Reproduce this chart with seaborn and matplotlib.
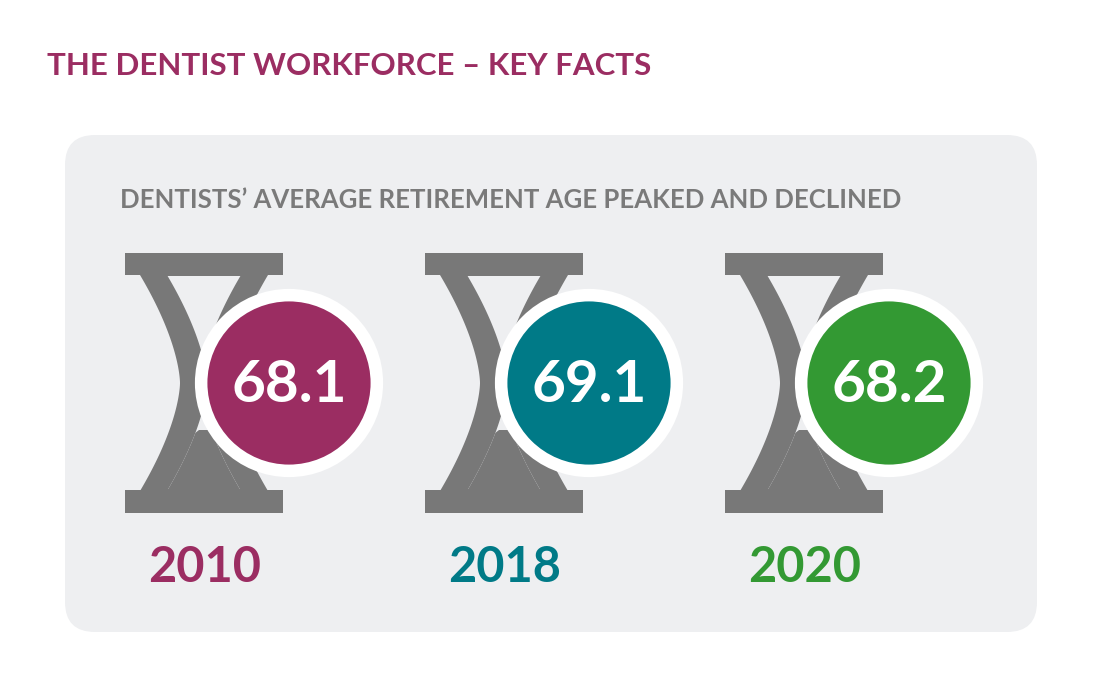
import numpy as np
import pandas as pd
import matplotlib
matplotlib.use("Agg")
import matplotlib.pyplot as plt
import seaborn as sns
from matplotlib.patches import FancyBboxPatch, Polygon, Rectangle

years = ["2010", "2018", "2020"]
ages = [68.1, 69.1, 68.2]
colors = ["#9B2D62", "#007A87", "#339933"]
title = "THE DENTIST WORKFORCE – KEY FACTS"
subtitle = "DENTISTS’ AVERAGE RETIREMENT AGE PEAKED AND DECLINED"

plt.rcParams["font.family"] = "Lato"
fig = plt.figure(figsize=(11, 6.94), dpi=100)
ax = fig.add_axes([0, 0, 1, 1])
ax.set_xlim(0, 1100); ax.set_ylim(694, 0); ax.axis("off")

panel_c = "#EEEFF1"; gray = "#787878"
ax.add_patch(FancyBboxPatch((65, 135), 972, 497, boxstyle="round,pad=0,rounding_size=30",
                            fc=panel_c, ec="none", zorder=0))
ax.text(47, 66, title, color="#9B2D62", fontsize=22.5, fontweight="bold", va="center")
ax.text(120, 200, subtitle, color="#7A7A7A", fontsize=18.5, fontweight="bold", va="center")

ys = np.linspace(275, 490, 120)
t = (ys - 383) / 108
w_out = 24 + 40 * np.abs(np.clip(t, -1, 1)) ** 1.6
for i in range(3):
    cx = 204 + 300 * i
    ax.add_patch(Rectangle((cx - 79, 253), 158, 22, fc=gray, ec="none", zorder=1))
    ax.add_patch(Rectangle((cx - 79, 490), 158, 23, fc=gray, ec="none", zorder=1))
    pts = np.concatenate([np.c_[cx - w_out, ys], np.c_[cx + w_out, ys][::-1]])
    ax.add_patch(Polygon(pts, fc=gray, ec="none", zorder=1))
    yi = np.linspace(276, 489, 120)
    ti = (yi - 383) / 108
    w_in = np.maximum(24 + 40 * np.abs(np.clip(ti, -1, 1)) ** 1.6 - 27, 2)
    pts_in = np.concatenate([np.c_[cx - w_in, yi], np.c_[cx + w_in, yi][::-1]])
    ax.add_patch(Polygon(pts_in, fc=panel_c, ec="none", zorder=2))
    ys2 = np.linspace(430, 490, 60)
    t2 = (ys2 - 383) / 108
    w2 = np.maximum(24 + 40 * np.abs(t2) ** 1.6 - 27, 2)
    mound = np.minimum(w2, 5 + (ys2 - 430) * 1.3)
    ax.add_patch(Polygon(np.concatenate([np.c_[cx - mound, ys2], np.c_[cx + mound, ys2][::-1]]),
                         fc=gray, ec="none", zorder=3))
    ax.text(cx - 56, 568, years[i], color=colors[i], fontsize=35, fontweight="bold",
            va="center", ha="left")

df = pd.DataFrame({"x": [289 + 300 * i for i in range(3)], "y": [383] * 3,
                   "year": years, "age": ages})
sns.scatterplot(data=df, x="x", y="y", hue="year", palette=colors, s=16000,
                edgecolor="white", linewidth=9, legend=False, ax=ax, zorder=4)
ax.set_xlim(0, 1100); ax.set_ylim(694, 0); ax.axis("off")
for _, r in df.iterrows():
    ax.text(r.x, r.y + 2, f"{r.age:.1f}", color="white", fontsize=42, fontweight="bold",
            ha="center", va="center", zorder=5)

fig.savefig("out.png", dpi=100, facecolor="white")
